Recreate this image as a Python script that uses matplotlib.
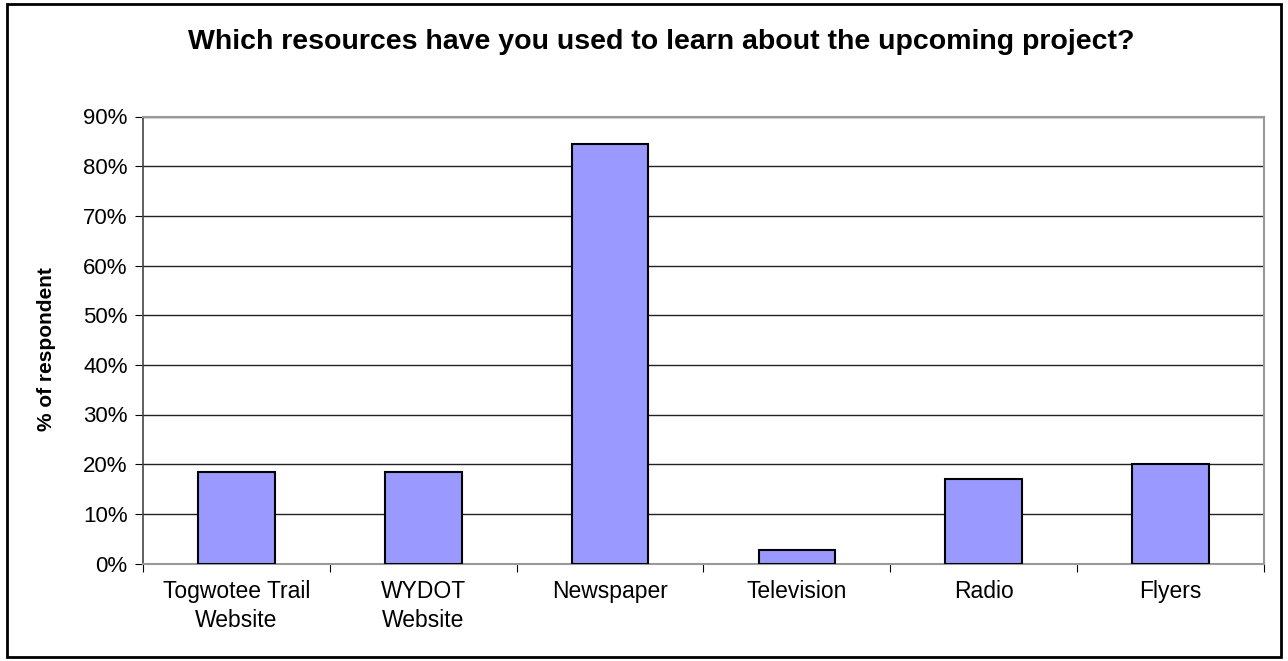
import matplotlib.pyplot as plt
from matplotlib.patches import Rectangle
from matplotlib.ticker import PercentFormatter

categories = ["Togwotee Trail\nWebsite", "WYDOT\nWebsite", "Newspaper", "Television", "Radio", "Flyers"]
percent = [18.5, 18.5, 84.5, 2.8, 17.1, 20.0]
yticks = [0, 10, 20, 30, 40, 50, 60, 70, 80, 90]

plt.rcParams['font.family'] = ['Liberation Sans', 'DejaVu Sans']

W, H = 1288, 661
fig = plt.figure(figsize=(W / 100, H / 100), dpi=100)
ax = fig.add_axes([143 / W, 1 - 563.5 / H, 1121 / W, 447 / H])

# outer chart border
fig.patches.append(Rectangle((7 / W, 4 / H), 1274 / W, 653 / H,
                             transform=fig.transFigure, fill=False,
                             edgecolor='black', linewidth=2))

x = range(len(categories))
ax.bar(x, percent, width=0.41, color='#9999ff', edgecolor='black', linewidth=1.5, zorder=3)

ax.set_xlim(-0.5, len(categories) - 0.5)
ax.set_ylim(0, 90)
ax.set_yticks(yticks)
ax.yaxis.set_major_formatter(PercentFormatter(decimals=0))
ax.grid(axis='y', color='#222222', linewidth=1, zorder=0)

# category boundaries get the ticks, names sit between them
ax.set_xticks([i + 0.5 for i in range(-1, len(categories))])
ax.set_xticklabels([])
ax.set_xticks(list(x), minor=True)
ax.set_xticklabels(categories, minor=True, fontsize=16.5, linespacing=1.3)
ax.tick_params(axis='x', which='minor', length=0, pad=12)
ax.tick_params(axis='x', which='major', length=6, color='black', direction='out')
ax.tick_params(axis='y', length=6, labelsize=16, pad=5, direction='out')

# plot area frame: grey on top, right and bottom
for side in ['top', 'right', 'bottom']:
    ax.spines[side].set_color('#999999')
    ax.spines[side].set_linewidth(1.5)
ax.spines['left'].set_color('#444444')
ax.spines['left'].set_linewidth(1.2)

fig.text(47 / W, 1 - 349 / H, "% of respondent", rotation=90,
         ha='center', va='center', fontsize=15, fontweight='bold')
fig.text(661 / W, 1 - 42 / H, "Which resources have you used to learn about the upcoming project?",
         ha='center', va='center', fontsize=20.5, fontweight='bold')

fig.savefig("out.png", dpi=100)
